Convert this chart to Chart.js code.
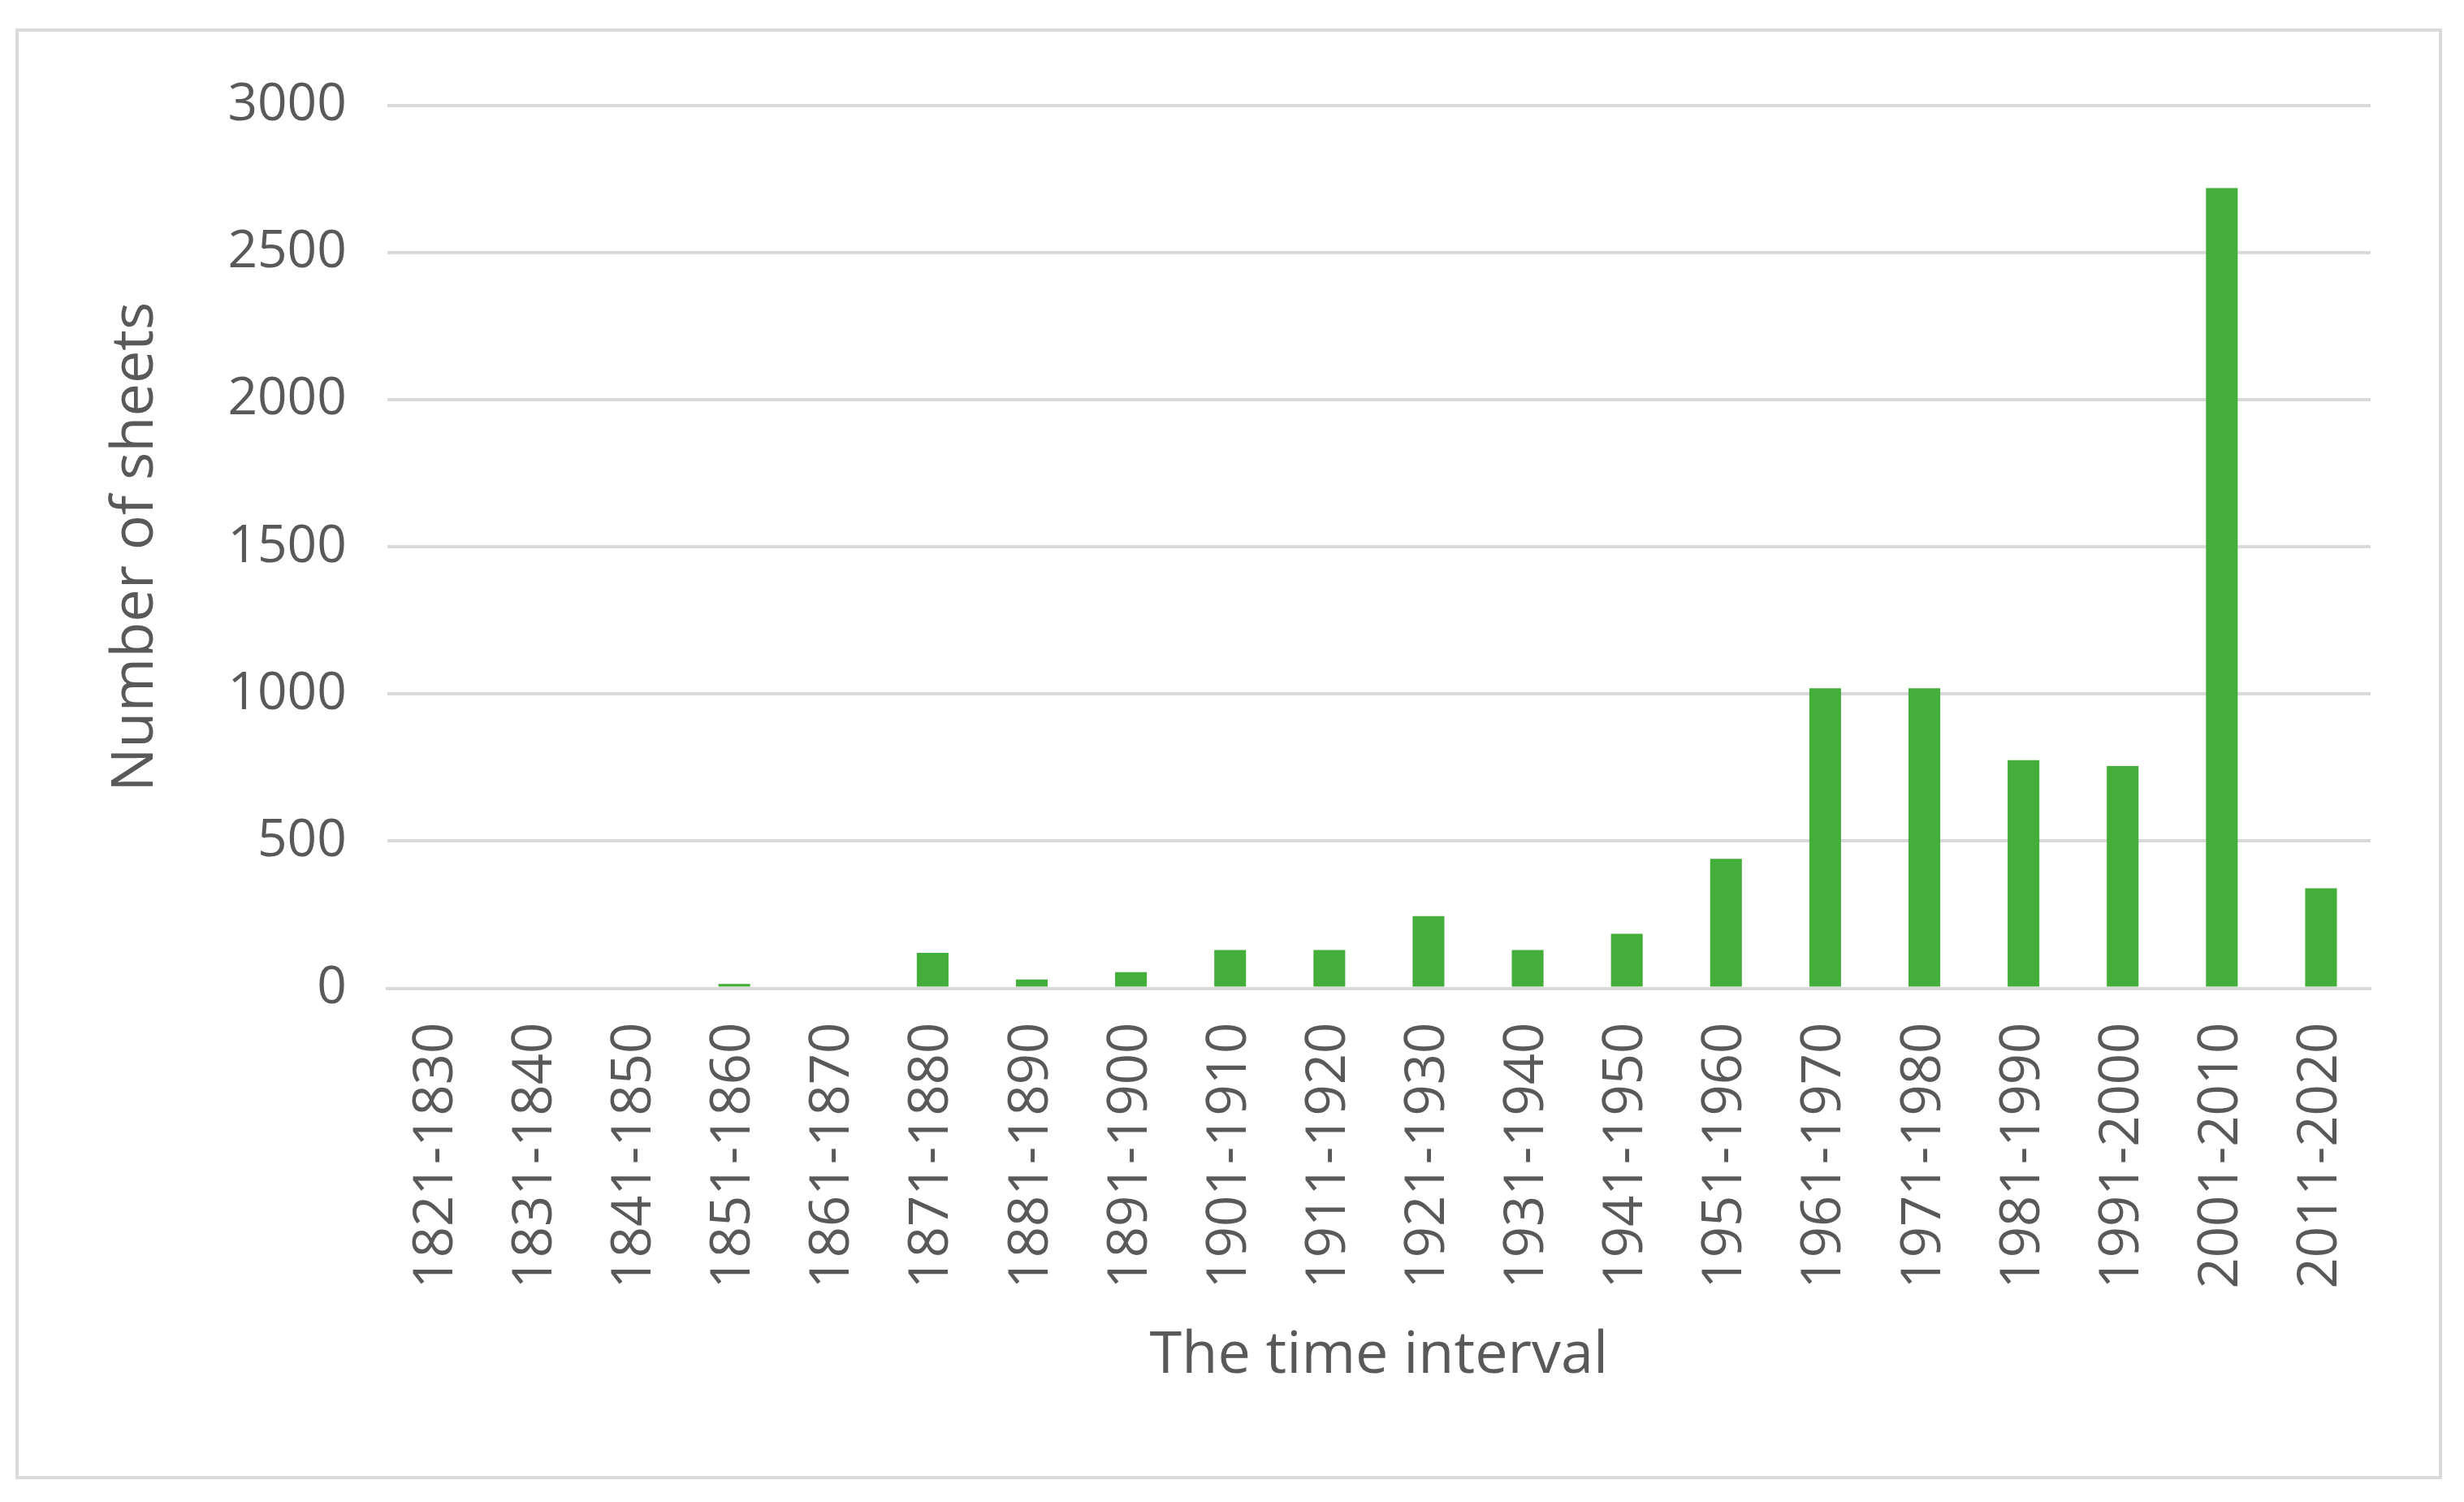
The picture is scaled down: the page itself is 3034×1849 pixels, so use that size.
<!DOCTYPE html>
<html><head><meta charset="utf-8">
<script src="https://cdn.jsdelivr.net/npm/chart.js@4"></script>
<style>
html,body{margin:0;padding:0;background:#fff;}
#frame{position:absolute;left:19px;top:35px;width:2988px;height:1786px;border:4px solid #d9d9d9;box-sizing:border-box;}
#wrap{position:absolute;left:0;top:0;width:3034px;height:1849px;}
</style></head><body>
<div id="frame"></div>
<div id="wrap"><canvas id="c"></canvas></div>
<script>
const categories = ["1821-1830","1831-1840","1841-1850","1851-1860","1861-1870","1871-1880","1881-1890","1891-1900","1901-1910","1911-1920","1921-1930","1931-1940","1941-1950","1951-1960","1961-1970","1971-1980","1981-1990","1991-2000","2001-2010","2011-2020"];
const sheets = [0,0,0,15,0,120,30,55,130,130,245,130,185,440,1020,1020,775,755,2720,340];
const yTicks = [0,500,1000,1500,2000,2500,3000];
const grey = '#595959';
new Chart(document.getElementById('c'), {
  type:'bar',
  data:{labels:categories, datasets:[{data:sheets, backgroundColor:'#43ae3a', barPercentage:0.32, categoryPercentage:1}]},
  options:{
    responsive:true, maintainAspectRatio:false, animation:false,
    layout:{padding:{left:120,right:115,top:130,bottom:132}},
    plugins:{legend:{display:false}, tooltip:{enabled:false}},
    scales:{
      x:{grid:{display:false}, border:{color:'#d9d9d9',width:4},
        ticks:{color:grey, font:{family:'"Open Sans", sans-serif', size:67}, maxRotation:90, minRotation:90, padding:34},
        title:{display:true, text:'The time interval', color:grey, font:{family:'"Open Sans", sans-serif', size:72}, padding:{top:6}}},
      y:{min:0,max:3000, afterBuildTicks:s=>{s.ticks=yTicks.map(v=>({value:v}));},
        grid:{color:'#d9d9d9', lineWidth:4, drawTicks:false}, border:{display:false},
        ticks:{color:grey, font:{family:'"Open Sans", sans-serif', size:64}, padding:50, callback:v=>String(v)},
        title:{display:true, text:'Number of sheets', color:grey, font:{family:'"Open Sans", sans-serif', size:72}, padding:{bottom:20}}}
    }
  }
});
</script></body></html>
